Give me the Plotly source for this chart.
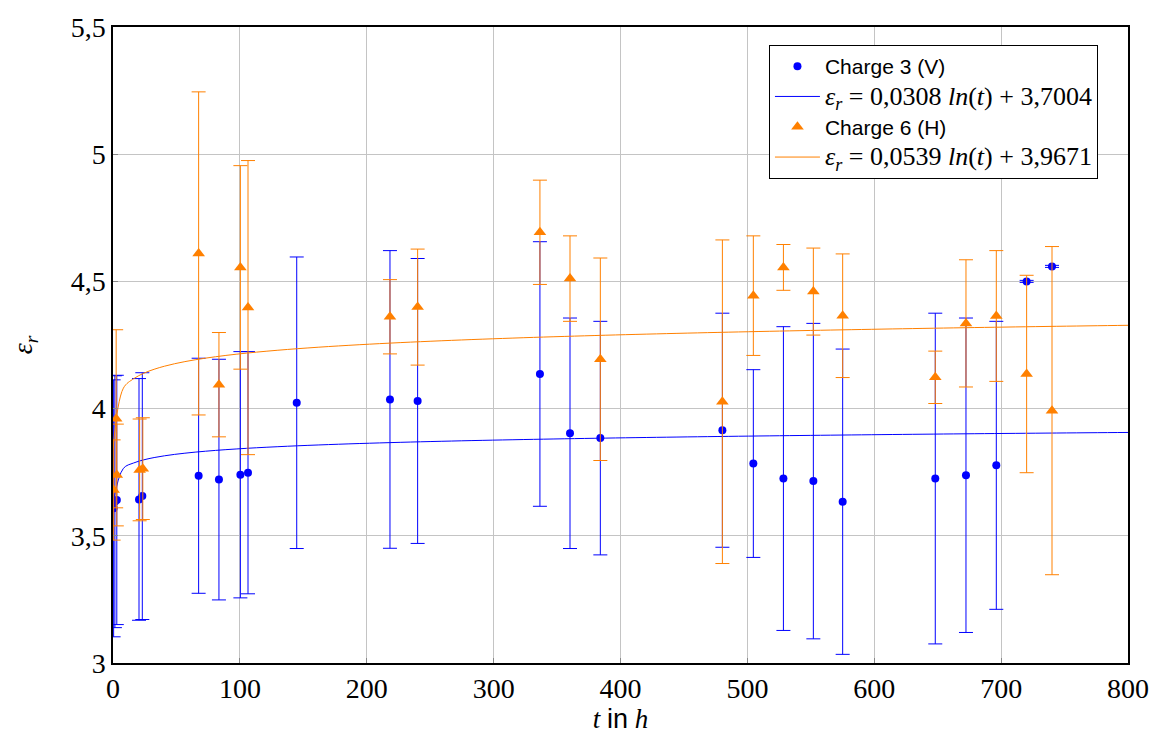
import numpy as np
import plotly.graph_objects as go

# Charge 3 (V)
t_v = [0.5, 1.5, 3, 20.5, 23.1, 67.5, 83.5, 100.4, 106.4, 144.8, 218.3, 240.1,
       336.5, 360.2, 384.1, 480.3, 504.7, 528.4, 552.0, 575.1, 648.1, 672.3,
       696.2, 720.1, 740.1]
eps_v = [3.608, 3.634, 3.641, 3.643, 3.656, 3.736, 3.721, 3.740, 3.748, 4.023,
         4.036, 4.030, 4.136, 3.903, 3.884, 3.915, 3.784, 3.725, 3.715, 3.634,
         3.725, 3.738, 3.777, 4.500, 4.559]
err_v = [0.505, 0.495, 0.49, 0.475, 0.485, 0.462, 0.473, 0.484, 0.476, 0.573,
         0.585, 0.56, 0.52, 0.453, 0.459, 0.46, 0.369, 0.597, 0.62, 0.60,
         0.65, 0.618, 0.566, 0.004, 0.004]

# Charge 6 (H)
t_h = [0.5, 2.5, 3, 21.0, 23.5, 67.5, 83.5, 100.4, 106.4, 218.3, 240.1, 336.5,
       360.2, 384.1, 480.3, 504.7, 528.4, 552.0, 575.1, 648.1, 672.3, 696.2,
       720.1, 740.1]
eps_h = [3.680, 3.960, 3.739, 3.759, 3.764, 4.610, 4.094, 4.555, 4.397, 4.361,
         4.399, 4.693, 4.511, 4.194, 4.027, 4.444, 4.555, 4.460, 4.365, 4.123,
         4.335, 4.364, 4.136, 3.992]
err_h = [0.197, 0.35, 0.2, 0.2, 0.2, 0.635, 0.205, 0.40, 0.578, 0.146, 0.228,
         0.205, 0.168, 0.398, 0.636, 0.235, 0.09, 0.171, 0.243, 0.103, 0.25,
         0.257, 0.388, 0.645]

# Fit parameters
fit_v = (0.0308, 3.7004)
fit_h = (0.0539, 3.9671)

x_ticks = [0, 100, 200, 300, 400, 500, 600, 700, 800]
y_ticks = [3, 3.5, 4, 4.5, 5, 5.5]
y_ticktext = ["3", "3,5", "4", "4,5", "5", "5,5"]

BLUE = "rgb(0,0,255)"
ORANGE = "rgb(255,128,0)"
SERIF = "Liberation Serif, DejaVu Serif, serif"
SANS = "Liberation Sans, Arial, sans-serif"


def math(s):
    return '<span style="font-family:Liberation Serif;font-size:26px">' + s + '</span>'


t_fit = np.linspace(0.1, 800, 100)

fig = go.Figure()
fig.add_trace(go.Scatter(
    x=t_v, y=eps_v, mode="markers", name="Charge 3 (V)",
    marker=dict(color=BLUE, size=8, symbol="circle"),
    error_y=dict(type="data", array=err_v, visible=True, color=BLUE,
                 thickness=1, width=7),
))
fig.add_trace(go.Scatter(
    x=t_fit, y=fit_v[0] * np.log(t_fit) + fit_v[1], mode="lines",
    name=math("<i>ε<sub>r</sub></i> = 0,0308 <i>ln</i>(<i>t</i>) + 3,7004"),
    line=dict(color=BLUE, width=1, shape="spline"),
))
fig.add_trace(go.Scatter(
    x=t_h, y=eps_h, mode="markers", name="Charge 6 (H)",
    marker=dict(color=ORANGE, size=11, symbol="triangle-up"),
    error_y=dict(type="data", array=err_h, visible=True, color=ORANGE,
                 thickness=1, width=7),
))
fig.add_trace(go.Scatter(
    x=t_fit, y=fit_h[0] * np.log(t_fit) + fit_h[1], mode="lines",
    name=math("<i>ε<sub>r</sub></i> = 0,0539 <i>ln</i>(<i>t</i>) + 3,9671"),
    line=dict(color=ORANGE, width=1, shape="spline"),
))

axis_common = dict(
    showgrid=True, gridcolor="#c4c4c4", gridwidth=1,
    showline=True, linecolor="black", linewidth=1.5, mirror=True,
    ticks="inside", ticklen=5, tickcolor="#888888",
    zeroline=False, automargin=False,
    tickfont=dict(family=SERIF, size=28, color="black"),
)

fig.update_layout(
    width=1162, height=738,
    margin=dict(l=113, r=34, t=27, b=75),
    plot_bgcolor="white", paper_bgcolor="white",
    xaxis=dict(range=[0, 800], tickvals=x_ticks,
               title=dict(text="<i>t</i> <span style=\"font-family:Liberation Sans\">in</span> <i>h</i>",
                          font=dict(family=SERIF, size=27, color="black"),
                          standoff=6),
               **axis_common),
    yaxis=dict(range=[3, 5.5], tickvals=y_ticks, ticktext=y_ticktext,
               title=dict(text="<i>ε<sub>r</sub></i>",
                          font=dict(family=SERIF, size=28, color="black"),
                          standoff=30),
               **axis_common),
    legend=dict(x=0.9704, y=0.9717, xanchor="right", yanchor="top",
                bgcolor="white", bordercolor="black", borderwidth=1,
                font=dict(family=SANS, size=21, color="black"),
                tracegroupgap=0, itemwidth=45),
    showlegend=True,
)

fig.write_html("out.html")
